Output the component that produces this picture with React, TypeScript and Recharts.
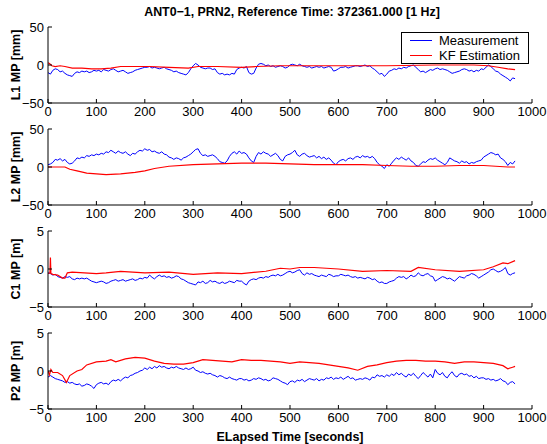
import React from 'react';
import { LineChart, Line, XAxis, YAxis } from 'recharts';

// x axis
const xTicks = [0, 100, 200, 300, 400, 500, 600, 700, 800, 900, 1000];
const mmTicks = [-50, 0, 50];
const mTicks = [-5, 0, 5];

// measurement samples, read every 5 s (0 .. 965 s)
const measTime = Array.from({ length: 194 }, (_, i) => i * 5);

const l1Meas = [
  -10, -12, -7, -5, -6, -9, -8, -11, -13, -14,
  -15, -11, -9, -10, -8, -9, -8, -10, -9, -7,
  -8, -7, -9, -6, -7, -8, -6, -5, -7, -9,
  -8, -7, -9, -11, -10, -9, -7, -6, -5, -4,
  -3, -3, -2, -4, -3, -4, -5, -4, -3, -5,
  -6, -7, -9, -8, -10, -11, -12, -13, -10, -5,
  -1, 2, 0, -3, -4, -5, -4, -4, -6, -5,
  -10, -12, -11, -13, -12, -13, -11, -12, -6, -4,
  -3, -4, -2, -10, -12, -11, -4, 1, 2, 1,
  -1, 0, -2, -1, -3, -2, -1, -2, -4, -3,
  0, 1, 0, -1, 1, -1, -2, -3, -2, -4,
  -3, -2, -3, -2, -4, -3, -2, -3, -8, -7,
  -5, -3, -3, -2, -4, -3, -2, -1, -1, -2,
  -1, 0, -2, -1, -4, -6, -9, -12, -11, -15,
  -12, -8, -7, -5, -6, -4, -5, -3, -4, -2,
  -1, 0, -3, -6, -9, -8, -10, -8, -6, -7,
  -5, -4, -6, -5, -6, -7, -9, -11, -10, -9,
  -8, -6, -5, -6, -8, -7, -9, -7, -8, -5,
  -6, -3, 0, -2, -5, -8, -9, -12, -14, -16,
  -18, -21, -17, -18,
];

const l2Meas = [
  3, 4, 6, 10, 9, 11, 8, 10, 6, 4,
  5, 8, 12, 11, 13, 12, 15, 14, 16, 15,
  17, 16, 18, 17, 20, 19, 22, 20, 18, 21,
  19, 18, 20, 17, 15, 18, 17, 20, 22, 21,
  24, 22, 23, 20, 21, 19, 18, 20, 17, 16,
  13, 12, 10, 12, 11, 9, 12, 13, 15, 17,
  20, 23, 24, 18, 15, 16, 14, 15, 16, 14,
  11, 7, 6, 5, 8, 14, 18, 20, 17, 21,
  18, 19, 17, 12, 8, 6, 14, 19, 17, 20,
  18, 17, 14, 16, 18, 15, 10, 8, 14, 16,
  17, 19, 22, 16, 14, 17, 18, 15, 13, 14,
  15, 12, 14, 11, 13, 10, 12, 9, 5, 3,
  7, 9, 10, 8, 11, 12, 10, 13, 14, 12,
  15, 13, 14, 12, 14, 11, 6, 3, 1, -2,
  3, 1, 5, 9, 12, 10, 13, 11, 9, 12,
  8, 6, 2, 1, 4, 7, 6, 9, 11, 10,
  12, 9, 7, 5, 3, 6, 12, 10, 8, 7,
  5, 8, 6, 7, 4, 6, 5, 7, 8, 9,
  13, 15, 17, 19, 18, 16, 17, 12, 10, 7,
  2, 6, 4, 8,
];

const c1Meas = [
  -0.5, -0.6, -0.8, -0.7, -1.0, -1.1, -1.2, -1.0, -1.1, -1.0,
  -1.3, -1.4, -1.2, -1.3, -1.2, -1.3, -1.2, -1.4, -1.6, -1.7,
  -1.8, -1.7, -1.6, -1.7, -1.9, -1.8, -1.6, -1.5, -1.4, -1.6,
  -1.5, -1.4, -1.6, -1.5, -1.4, -1.3, -1.5, -1.4, -1.2, -1.3,
  -1.1, -1.2, -0.8, -1.1, -1.3, -1.0, -0.8, -1.0, -0.9, -1.1,
  -1.0, -1.2, -1.1, -0.9, -1.0, -1.3, -1.4, -1.6, -1.8, -1.9,
  -2.0, -2.1, -1.7, -1.8, -1.6, -1.9, -1.8, -1.5, -1.7, -1.6,
  -1.8, -1.9, -1.7, -1.9, -1.8, -1.6, -1.7, -1.8, -1.5, -1.6,
  -1.6, -1.9, -2.1, -1.6, -1.4, -1.3, -1.4, -1.2, -1.1, -1.2,
  -1.0, -1.1, -0.9, -0.8, -0.9, -0.7, -0.9, -0.8, -0.6, -0.4,
  -0.3, -0.5, -0.4, -0.2, -0.1, -0.6, -0.8, -0.5, -0.7, -0.6,
  -0.8, -0.9, -1.0, -0.8, -0.9, -1.0, -0.7, -0.8, -1.0, -0.9,
  -0.9, -0.7, -0.8, -0.9, -0.8, -1.0, -1.1, -1.0, -1.2, -1.1,
  -1.2, -1.3, -1.1, -1.2, -1.4, -1.3, -1.6, -1.8, -1.7, -1.9,
  -1.9, -1.7, -1.6, -1.5, -1.2, -1.0, -1.1, -1.0, -1.3, -1.1,
  -0.8, -1.0, -0.9, -0.5, -0.8, -0.9, -0.7, -0.6, -0.9, -1.0,
  -1.6, -1.4, -1.2, -1.0, -1.1, -1.3, -1.2, -1.4, -1.6, -1.3,
  -1.0, -1.1, -1.2, -0.9, -0.8, -0.6, -0.7, -0.9, -1.2, -1.0,
  -0.8, -0.6, -0.4, -0.1, 0.0, -0.2, -0.4, -0.3, -0.1, 0.2,
  -0.6, -0.8, -0.6, -0.5,
];

const p2Meas = [
  -0.8, -0.6, -0.8, -1.0, -1.1, -1.2, -1.3, -1.5, -1.4, -1.6,
  -1.5, -1.7, -1.8, -1.7, -2.0, -1.9, -1.7, -1.8, -2.0, -2.3,
  -1.8, -1.6, -1.5, -1.7, -1.6, -1.8, -1.4, -1.2, -1.3, -1.1,
  -1.3, -1.0, -0.8, -0.9, -0.6, -0.5, -0.3, -0.2, 0.0, 0.1,
  0.4, 0.2, 0.5, 0.3, 0.6, 0.4, 0.7, 0.5, 0.6, 0.4,
  0.3, 0.5, 0.4, 0.6, 0.4, 0.3, 0.2, 0.4, 0.2, 0.3,
  0.5, 0.1, 0.0, -0.2, -0.1, -0.3, -0.4, -0.3, -0.5, -0.6,
  -0.8, -0.6, -0.7, -0.9, -1.0, -0.8, -1.0, -1.1, -1.2, -1.0,
  -1.0, -1.2, -1.1, -1.3, -1.2, -1.0, -1.1, -0.9, -1.0, -1.2,
  -1.1, -1.3, -1.2, -0.9, -1.0, -1.1, -1.3, -1.5, -1.6, -1.8,
  -1.4, -1.3, -1.5, -1.2, -1.3, -1.1, -1.4, -1.2, -1.0, -1.1,
  -1.2, -1.0, -1.3, -1.1, -1.2, -0.9, -1.0, -0.8, -1.1, -0.9,
  -1.0, -0.8, -1.1, -0.9, -0.7, -1.0, -0.9, -1.2, -1.1, -1.0,
  -1.1, -0.9, -1.0, -1.2, -0.8, -0.9, -0.5, -0.7, -0.6, -0.8,
  -0.5, -0.7, -0.4, -0.6, -0.2, -0.5, -0.3, -0.6, -0.8, -0.4,
  -0.6, -0.3, -0.7, -1.0, -0.6, -0.2, -0.5, -0.8, -0.4, -0.9,
  0.2, -0.3, -0.5, -0.2, -0.7, -0.9, -0.4, -0.1, -0.6, -0.8,
  -0.4, -0.3, -0.5, -0.4, -0.7, -0.6, -0.9, -0.7, -1.0, -0.9,
  -0.9, -1.1, -1.0, -1.2, -1.1, -1.3, -1.2, -1.0, -1.3, -1.4,
  -1.8, -1.5, -1.4, -1.7,
];

// KF estimation, read at irregular times
const l1KfTime = [0, 3, 8, 15, 25, 35, 50, 70, 90, 110, 130, 150, 180, 210, 250, 290, 310, 350, 400, 430, 480, 520, 600, 700, 800, 880, 910, 930, 950, 965];
const l1Kf = [3, 2, -1, -2, -1, -2, -4, -4, -5, -5, -4, -2, -2, -2, -3, -4, -2, -2, -3, -2, -1, -1, -1, -1, 0, 0, -1, -3, -5, -6];

const l2KfTime = [0, 20, 35, 45, 60, 80, 100, 120, 150, 180, 200, 220, 250, 300, 350, 400, 450, 500, 550, 600, 650, 700, 750, 800, 850, 900, 950, 965];
const l2Kf = [0, 0, 0, -3, -5, -8, -9, -10, -9, -7, -5, -2, 1, 3, 4, 5, 5, 4, 3, 3, 3, 2, 1, 1, 2, 2, 0, 0];

const c1KfTime = [0, 4, 5, 6, 10, 20, 30, 35, 40, 50, 100, 120, 150, 200, 250, 300, 350, 400, 450, 480, 500, 520, 550, 600, 650, 700, 750, 765, 800, 850, 900, 920, 940, 950, 965];
const c1Kf = [-0.6, -0.5, 1.5, -0.6, -0.7, -0.8, -1.2, -1.2, -0.5, -0.4, -0.6, -0.5, -0.3, -0.5, -0.4, -0.7, -0.5, -0.6, -0.3, 0.1, 0, 0.2, 0.2, 0, -0.3, -0.2, -0.3, 0.2, -0.1, -0.3, -0.1, 0.3, 0.8, 0.7, 1.1];

const p2KfTime = [0, 3, 6, 10, 20, 30, 38, 45, 60, 70, 80, 100, 120, 130, 140, 160, 180, 200, 220, 240, 260, 280, 300, 320, 340, 360, 380, 400, 420, 440, 460, 480, 500, 520, 540, 560, 580, 600, 620, 640, 660, 680, 700, 720, 740, 760, 780, 800, 820, 840, 860, 880, 900, 920, 940, 950, 960, 965];
const p2Kf = [0, -0.5, 0.2, -0.2, -0.2, -0.6, -1.5, -0.6, 0, 0.2, 0.8, 1.2, 1.3, 1.5, 1.2, 1.6, 1.8, 1.7, 1.3, 1.0, 0.9, 0.9, 1.1, 1.5, 1.4, 1.3, 1.2, 1.5, 1.4, 1.4, 1.3, 1.2, 1.0, 1.2, 1.1, 1.0, 0.8, 0.6, 0.4, 0.1, 0.6, 0.8, 1.1, 1.3, 1.4, 1.4, 1.3, 1.3, 1.2, 1.0, 1.2, 1.2, 1.1, 1.0, 0.7, 0.3, 0.5, 0.6];

const toRows = (t: number[], v: number[]) => t.map((x, i) => ({ t: x, v: v[i] }));
const fmt = (v: number) => String(v).replace('-', '\u2212');

const FONT = '"Liberation Sans", Arial, Helvetica, sans-serif';

const panels = [
  { label: 'L1 MP [mm]', top: 27, ticks: mmTicks, meas: l1Meas, kfTime: l1KfTime, kf: l1Kf },
  { label: 'L2 MP [mm]', top: 129, ticks: mmTicks, meas: l2Meas, kfTime: l2KfTime, kf: l2Kf },
  { label: 'C1 MP [m]', top: 231, ticks: mTicks, meas: c1Meas, kfTime: c1KfTime, kf: c1Kf },
  { label: 'P2 MP [m]', top: 333, ticks: mTicks, meas: p2Meas, kfTime: p2KfTime, kf: p2Kf },
];

const PLOT_H = 76;
const PAD_TOP = 10;

const Panel = ({ top, ticks, meas, kfTime, kf }: any) => {
  const domain = [ticks[0], ticks[ticks.length - 1]];
  const tickStyle = { fontSize: 13, fill: '#000', fontFamily: FONT };
  return (
    <div style={{ position: 'absolute', left: 0, top: top - PAD_TOP }}>
      <LineChart width={547} height={PLOT_H + PAD_TOP + 18} margin={{ top: PAD_TOP, right: 15, bottom: 0, left: 8 }}>
        <XAxis xAxisId="b" dataKey="t" type="number" domain={[0, 1000]} ticks={xTicks} interval={0}
          orientation="bottom" height={18} tickSize={-4} tickMargin={8} stroke="#000" tick={tickStyle} allowDataOverflow />
        <XAxis xAxisId="tp" dataKey="t" type="number" domain={[0, 1000]} ticks={xTicks} interval={0}
          orientation="top" height={0} tickSize={-4} tick={false} stroke="#000" />
        <YAxis yAxisId="l" type="number" domain={domain} ticks={ticks} interval={0} width={40}
          tickSize={-4} tickMargin={8} stroke="#000" tick={tickStyle} tickFormatter={fmt} allowDataOverflow />
        <YAxis yAxisId="r" orientation="right" type="number" domain={domain} ticks={ticks} interval={0} width={0}
          tickSize={-4} tick={false} stroke="#000" />
        <Line xAxisId="b" yAxisId="l" data={toRows(measTime, meas)} dataKey="v" type="linear"
          stroke="#0000ff" strokeWidth={1} dot={false} isAnimationActive={false} />
        <Line xAxisId="b" yAxisId="l" data={toRows(kfTime, kf)} dataKey="v" type="linear"
          stroke="#ff0000" strokeWidth={1.2} dot={false} isAnimationActive={false} />
      </LineChart>
    </div>
  );
};

export default function App() {
  return (
    <div style={{ position: 'absolute', left: 0, top: 0, width: 547, height: 444, background: '#fff', fontFamily: FONT }}>
      {panels.map((p) => (
        <Panel key={p.label} {...p} />
      ))}
      <svg width={547} height={444} style={{ position: 'absolute', left: 0, top: 0, pointerEvents: 'none' }}>
        <text x={292} y={16} textAnchor="middle" fontSize={12.4} fontWeight="bold" fontFamily={FONT}>
          ANT0{'\u2212'}1,  PRN2,  Reference Time: 372361.000 [1 Hz]
        </text>
        {panels.map((p) => (
          <text key={p.label} x={0} y={0} transform={`translate(20 ${p.top + PLOT_H / 2}) rotate(-90)`}
            textAnchor="middle" fontSize={12.5} fontWeight="bold" fontFamily={FONT}>
            {p.label}
          </text>
        ))}
        <text x={290} y={441} textAnchor="middle" fontSize={12.5} fontWeight="bold" fontFamily={FONT}>
          ELapsed Time [seconds]
        </text>
      </svg>
      <div style={{ position: 'absolute', left: 401, top: 32, width: 126, height: 30, border: '1px solid #000',
        background: '#fff', fontSize: 13, lineHeight: '15px' }}>
        <div style={{ display: 'flex', alignItems: 'center', height: 15 }}>
          <span style={{ display: 'inline-block', width: 22, height: 0, borderTop: '1px solid #0000ff', margin: '0 7px 0 8px' }} />
          <span>Measurement</span>
        </div>
        <div style={{ display: 'flex', alignItems: 'center', height: 15 }}>
          <span style={{ display: 'inline-block', width: 22, height: 0, borderTop: '1px solid #ff0000', margin: '0 7px 0 8px' }} />
          <span>KF Estimation</span>
        </div>
      </div>
    </div>
  );
}
